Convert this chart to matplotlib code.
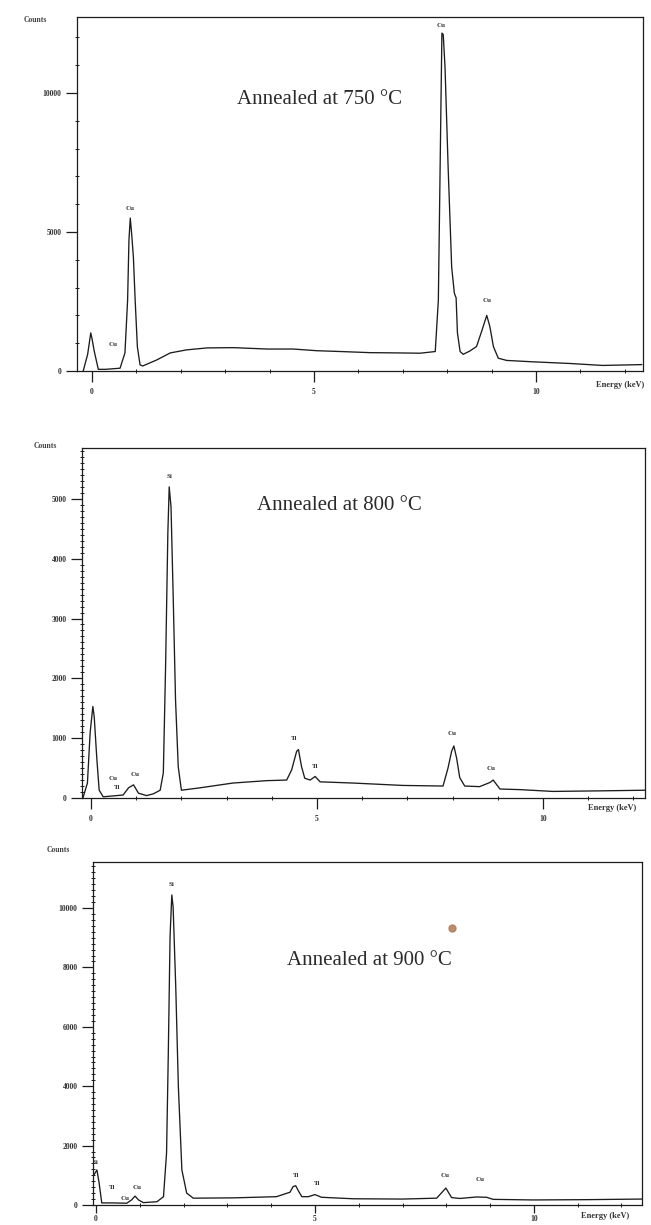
import matplotlib
matplotlib.use("Agg")
import matplotlib.pyplot as plt
from matplotlib.lines import Line2D
from matplotlib.ticker import MultipleLocator, FixedLocator

plt.rcParams["font.family"] = ["Liberation Serif", "DejaVu Serif"]

# ---------------------------------------------------------------------------
# Spectra (energy in keV, counts)
# ---------------------------------------------------------------------------

energy_750 = [-0.2, -0.1, -0.03, 0.0, 0.05, 0.14, 0.3, 0.63, 0.74, 0.8, 0.83, 0.86, 0.89,
              0.93, 0.97, 1.02, 1.08, 1.14, 1.46, 1.76, 2.13, 2.59, 3.18, 3.94, 4.53,
              5.06, 5.6, 6.26, 6.9, 7.39, 7.73, 7.8, 7.84, 7.88, 7.91, 7.95, 8.02, 8.1,
              8.16, 8.2, 8.23, 8.29, 8.36, 8.51, 8.66, 8.78, 8.89, 8.96, 9.04, 9.15,
              9.34, 9.93, 10.77, 11.5, 12.38]
counts_750 = [0, 600, 1370, 1150, 700, 60, 60, 100, 650, 2550, 4700, 5500, 4960,
              4100, 2550, 870, 220, 180, 400, 650, 760, 830, 840, 790, 790,
              730, 700, 660, 650, 640, 700, 2550, 7340, 12150, 12100, 10940, 7340, 3740,
              2800, 2630, 1370, 700, 600, 720, 880, 1450, 2000, 1600, 880, 460,
              380, 330, 270, 200, 230]

energy_800 = [-0.18, -0.08, -0.02, 0.04, 0.07, 0.13, 0.18, 0.27, 0.71, 0.83, 0.94, 1.05,
              1.23, 1.38, 1.53, 1.6, 1.65, 1.7, 1.73, 1.77, 1.82, 1.87, 1.93, 2.0,
              2.41, 3.14, 3.89, 4.33, 4.44, 4.55, 4.59, 4.66, 4.73, 4.85, 4.96, 5.07,
              5.8, 6.9, 7.79, 7.9, 7.98, 8.03, 8.09, 8.16, 8.27, 8.6, 8.83, 8.9,
              9.05, 9.49, 10.22, 11.33, 12.26]
counts_800 = [0, 250, 1090, 1530, 1360, 635, 130, 20, 50, 170, 220, 80,
              40, 70, 130, 420, 2200, 4430, 5200, 4870, 3310, 1640, 520, 130,
              170, 250, 290, 300, 470, 780, 810, 520, 330, 300, 360, 270,
              250, 210, 200, 500, 780, 870, 670, 340, 200, 190, 260, 300,
              150, 140, 110, 120, 130]

energy_900 = [-0.05, 0.02, 0.07, 0.13, 0.39, 0.7, 0.81, 0.89, 0.97, 1.08, 1.39, 1.54,
              1.61, 1.65, 1.69, 1.73, 1.76, 1.82, 1.88, 1.96, 2.07, 2.22, 3.13, 4.12,
              4.43, 4.5, 4.56, 4.62, 4.7, 4.85, 5.0, 5.15, 5.87, 7.0, 7.78, 7.99,
              8.12, 8.31, 8.69, 8.92, 9.07, 9.98, 11.2, 12.46]
counts_900 = [1010, 1180, 740, 70, 70, 60, 170, 300, 170, 80, 110, 280,
              1750, 5100, 9030, 10440, 10040, 7350, 3980, 1180, 400, 230, 240, 280,
              430, 620, 650, 480, 280, 280, 350, 260, 210, 200, 230, 570,
              250, 220, 270, 260, 190, 170, 180, 200]

# peak labels: (text, energy, counts)
labels_750 = [("Cu", 0.47, 860), ("Cu", 0.86, 5750), ("Cu", 7.86, 12350), ("Cu", 8.89, 2450)]
labels_800 = [("Cu", 0.49, 290), ("Ti", 0.57, 130), ("Cu", 0.97, 350), ("Si", 1.73, 5330),
              ("Ti", 4.5, 950), ("Ti", 4.96, 490), ("Cu", 8.0, 1030), ("Cu", 8.86, 450)]
labels_900 = [("Si", -0.02, 1350), ("Ti", 0.36, 500), ("Cu", 0.66, 130), ("Cu", 0.93, 500),
              ("Si", 1.73, 10700), ("Ti", 4.58, 920), ("Ti", 5.04, 630), ("Cu", 7.97, 900),
              ("Cu", 8.77, 790)]

titles = ["Annealed at 750 \u00b0C", "Annealed at 800 \u00b0C", "Annealed at 900 \u00b0C"]
yticks_750 = [0, 5000, 10000]
yticks_800 = [0, 1000, 2000, 3000, 4000, 5000]
yticks_900 = [0, 2000, 4000, 6000, 8000, 10000]
xticks = [0, 5, 10]

W, H = 651, 1225
INK = "#1c1c1c"


def px(x, y):
    """Pixel position of the scan -> figure fraction."""
    return x / W, 1 - y / H


def draw_panel(fig, rect, xlim, ylim, energy, counts, labels, yticks, yminor,
               title, title_xy, counts_xy, energy_xy, xtick_len=8, xtick_pad=4):
    ax = fig.add_axes(rect)
    ax.plot(energy, counts, color=INK, lw=0.95, solid_joinstyle="round")
    ax.set_xlim(*xlim)
    ax.set_ylim(*ylim)

    for s in ax.spines.values():
        s.set_color(INK)
        s.set_linewidth(0.9)

    ax.xaxis.set_major_locator(FixedLocator(xticks))
    ax.xaxis.set_minor_locator(MultipleLocator(1))
    ax.yaxis.set_major_locator(FixedLocator(yticks))
    ax.yaxis.set_minor_locator(MultipleLocator(yminor))
    ax.tick_params(which="major", direction="out", length=8, width=0.9, color=INK,
                   labelsize=5.5, pad=3, labelcolor="#333333")
    ax.tick_params(which="minor", direction="inout", length=3, width=0.7, color=INK)
    ax.tick_params(axis="x", which="major", length=xtick_len, pad=xtick_pad)
    for t in ax.get_xticklabels() + ax.get_yticklabels():
        t.set_fontweight("bold")

    for txt, e, c in labels:
        ax.text(e, c, txt, fontsize=5, fontweight="bold", color="#333333",
                ha="center", va="bottom")

    ax.text(title_xy[0], title_xy[1], title, fontsize=15, color="#2a2a2a",
            ha="left", va="baseline")

    fig.text(*px(*counts_xy), "Counts", fontsize=5.5, fontweight="bold",
             color="#444444", ha="center", va="center")
    fig.text(*px(*energy_xy), "Energy (keV)", fontsize=6, fontweight="bold",
             color="#333333", ha="center", va="center")
    return ax


fig = plt.figure(figsize=(W / 100, H / 100), dpi=100)
fig.patch.set_facecolor("white")

draw_panel(fig, [77 / W, 1 - 371 / H, 566 / W, 354 / H], (-0.34, 12.41), (0, 12730),
           energy_750, counts_750, labels_750, yticks_750, 1000,
           titles[0], (3.27, 9600), (35, 20), (620, 385))

draw_panel(fig, [82 / W, 1 - 798 / H, 563 / W, 350 / H], (-0.2, 12.26), (0, 5850),
           energy_800, counts_800, labels_800, yticks_800, 100,
           titles[1], (3.67, 4815), (45, 446), (612, 808))

draw_panel(fig, [93 / W, 1 - 1205 / H, 549 / W, 343 / H], (-0.07, 12.47), (0, 11550),
           energy_900, counts_900, labels_900, yticks_900, 200,
           titles[2], (4.36, 8080), (58, 850), (605, 1216),
           xtick_len=6, xtick_pad=1.5)

# brownish speck on the scan
fig.add_artist(Line2D([452 / W], [1 - 928 / H], transform=fig.transFigure,
                      marker="o", markersize=5, color="#b07a55", alpha=0.85, lw=0))

fig.savefig("out.png", dpi=100)
